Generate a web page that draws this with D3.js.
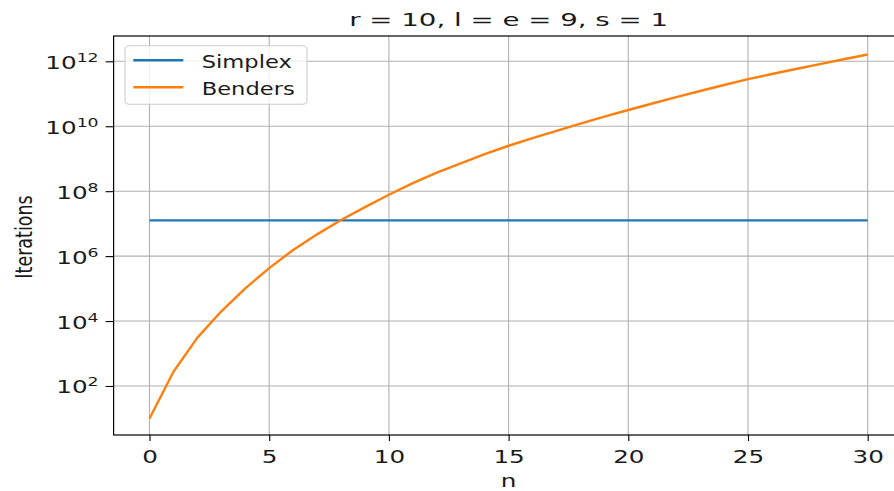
<!DOCTYPE html>
<html>
<head>
<meta charset="utf-8">
<script src="https://cdn.jsdelivr.net/npm/d3@7"></script>
<style>
  html, body { margin: 0; padding: 0; background: #fff; }
  svg { display: block; }
  text { font-family: "DejaVu Sans", sans-serif; fill: #1a1a1a; }
</style>
</head>
<body>
<svg id="chart" width="894" height="491"></svg>
<script>
// ---- data ----
const nValues = [0,1,2,3,4,5,6,7,8,9,10,11,12,13,14,15,16,17,18,19,20,21,22,23,24,25,26,27,28,29,30];
const bendersIterations = [
  1.0e1, 2.75e2, 3.09e3, 2.0e4, 1.02e5, 4.27e5, 1.55e6, 4.68e6, 1.29e7, 3.24e7,
  7.76e7, 1.78e8, 3.72e8, 7.24e8, 1.38e9, 2.51e9, 4.32e9, 7.24e9, 1.20e10, 1.97e10,
  3.16e10, 5.01e10, 7.85e10, 1.22e11, 1.86e11, 2.82e11, 4.07e11, 5.82e11, 8.22e11, 1.16e12,
  1.62e12
];
const simplexIterations = [
  1.26e7, 1.26e7, 1.26e7, 1.26e7, 1.26e7, 1.26e7, 1.26e7, 1.26e7, 1.26e7, 1.26e7,
  1.26e7, 1.26e7, 1.26e7, 1.26e7, 1.26e7, 1.26e7, 1.26e7, 1.26e7, 1.26e7, 1.26e7,
  1.26e7, 1.26e7, 1.26e7, 1.26e7, 1.26e7, 1.26e7, 1.26e7, 1.26e7, 1.26e7, 1.26e7,
  1.26e7
];
const xTickValues = [0, 5, 10, 15, 20, 25, 30];
const yTickExponents = [2, 4, 6, 8, 10, 12];
const seriesNames = ["Simplex", "Benders"];
const titleText = "r = 10, l = e = 9, s = 1";
const xLabel = "n";
const yLabel = "Iterations";

// ---- layout ----
const svg = d3.select("#chart");
const plot = { left: 113.6, right: 903.6, top: 36, bottom: 435 };
const SX = 1.45;       // horizontal stretch of text in reference
const FS = 17;         // base font size

const x = d3.scaleLinear().domain([-1.5, 31.5]).range([plot.left, plot.right]);
const y = d3.scaleLog().domain([Math.pow(10, 0.49), Math.pow(10, 12.78)]).range([plot.bottom, plot.top]);

const defs = svg.append("defs");
defs.append("clipPath").attr("id", "clip").append("rect")
  .attr("x", plot.left).attr("y", plot.top)
  .attr("width", plot.right - plot.left).attr("height", plot.bottom - plot.top);

// grid
const grid = svg.append("g");
grid.selectAll("line.vx").data(xTickValues).enter().append("line")
  .attr("x1", d => x(d)).attr("x2", d => x(d))
  .attr("y1", plot.top).attr("y2", plot.bottom)
  .attr("stroke", "#b0b0b0").attr("stroke-width", 1.1);
grid.selectAll("line.hy").data(yTickExponents).enter().append("line")
  .attr("x1", plot.left).attr("x2", plot.right)
  .attr("y1", d => y(Math.pow(10, d))).attr("y2", d => y(Math.pow(10, d)))
  .attr("stroke", "#b0b0b0").attr("stroke-width", 1.1);

// lines
const lineGen = d3.line().x((d, i) => x(nValues[i])).y(d => y(d));
const lines = svg.append("g").attr("clip-path", "url(#clip)");
lines.append("path").datum(simplexIterations)
  .attr("d", lineGen).attr("fill", "none")
  .attr("stroke", "#1f77b4").attr("stroke-width", 2.4);
lines.append("path").datum(bendersIterations)
  .attr("d", lineGen).attr("fill", "none")
  .attr("stroke", "#ff7f0e").attr("stroke-width", 2.4)
  .attr("stroke-linejoin", "round");

// spines
svg.append("rect").attr("x", plot.left).attr("y", plot.top)
  .attr("width", plot.right - plot.left).attr("height", plot.bottom - plot.top)
  .attr("fill", "none").attr("stroke", "#000").attr("stroke-width", 1.2);

// x axis ticks
const xAxis = d3.axisBottom(x).tickValues(xTickValues).tickSize(6).tickFormat(d3.format("d"));
const gx = svg.append("g").attr("transform", `translate(0,${plot.bottom})`).call(xAxis);
gx.select(".domain").remove();
gx.selectAll(".tick line").attr("stroke", "#000").attr("stroke-width", 1.1);
gx.selectAll(".tick text").remove();
gx.selectAll(".tick").append("text")
  .attr("transform", `translate(0,28) scale(${SX},1)`)
  .attr("text-anchor", "middle")
  .attr("font-size", FS)
  .style("fill", "#1a1a1a")
  .text(d => d);

// y axis ticks
const yAxis = d3.axisLeft(y).tickValues(yTickExponents.map(e => Math.pow(10, e))).tickSize(8).tickFormat("");
const gy = svg.append("g").attr("transform", `translate(${plot.left},0)`).call(yAxis);
gy.select(".domain").remove();
gy.selectAll(".tick line").attr("stroke", "#000").attr("stroke-width", 1.1);
gy.selectAll(".tick").each(function(d) {
  const e = Math.round(Math.log10(d));
  const t = d3.select(this).append("text")
    .attr("transform", `translate(-15,7) scale(${SX},1)`)
    .attr("text-anchor", "end")
    .attr("font-size", FS)
    .style("fill", "#1a1a1a");
  t.append("tspan").text("10");
  t.append("tspan").attr("dy", -7).attr("font-size", FS * 0.7).text(e);
});

// title
svg.append("text")
  .attr("transform", `translate(${(plot.left + plot.right) / 2},26) scale(1.58,1)`)
  .attr("text-anchor", "middle").attr("font-size", 17.5)
  .text(titleText);

// axis labels
svg.append("text")
  .attr("transform", `translate(${x(15)},487) scale(${SX},1)`)
  .attr("text-anchor", "middle").attr("font-size", FS)
  .text(xLabel);
svg.append("text")
  .attr("transform", `translate(32,237) scale(1.35,1) rotate(-90)`)
  .attr("text-anchor", "middle").attr("font-size", 17.5)
  .text(yLabel);

// legend
const lg = svg.append("g");
lg.append("rect").attr("x", 125).attr("y", 45.7).attr("width", 182).attr("height", 58.6)
  .attr("rx", 4).attr("fill", "#fff").attr("fill-opacity", 0.8)
  .attr("stroke", "#cccccc").attr("stroke-width", 1.1);
const legendColors = ["#1f77b4", "#ff7f0e"];
seriesNames.forEach((name, i) => {
  const cy = 60.3 + i * 27;
  lg.append("line").attr("x1", 133.3).attr("x2", 183.3).attr("y1", cy).attr("y2", cy)
    .attr("stroke", legendColors[i]).attr("stroke-width", 2.4);
  lg.append("text")
    .attr("transform", `translate(201.7,${cy + 7.5}) scale(1.33,1)`)
    .attr("font-size", FS)
    .text(name);
});
</script>
</body>
</html>
